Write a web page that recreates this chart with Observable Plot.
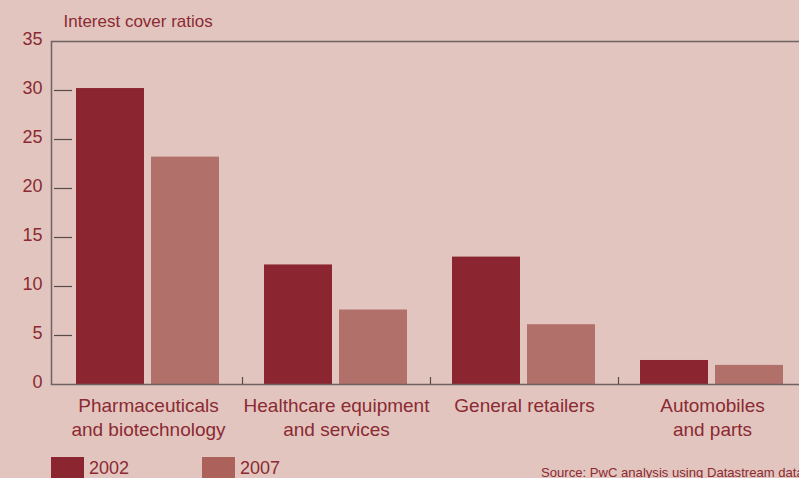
<!DOCTYPE html>
<html>
<head>
<meta charset="utf-8">
<script src="https://cdn.jsdelivr.net/npm/d3@7"></script>
<script src="https://cdn.jsdelivr.net/npm/@observablehq/plot@0.6"></script>
<style>
  html, body { margin: 0; padding: 0; background: #e2c5bf; }
  #wrap { position: relative; width: 799px; height: 478px; overflow: hidden; background: #e2c5bf; font-family: "Liberation Sans", Arial, sans-serif; }
  #chart { position: absolute; left: 0; top: 0; width: 806px; }
  #chart svg { max-width: none !important; width: 806px !important; height: 450px !important; }
  .legend { position: absolute; top: 457px; height: 30px; font-size: 18px; color: #8b2a32; }
  .sw { position: absolute; left: 0; top: 0; width: 33px; height: 24px; }
  .lt { position: absolute; left: 38px; top: 2px; line-height: 18px; white-space: nowrap; }
  .source { position: absolute; left: 541px; top: 466px; font-size: 13.1px; line-height: 13.1px; color: #8b2a32; white-space: nowrap; }
</style>
</head>
<body>
<div id="wrap">
  <div id="chart"></div>
  <div class="legend" style="left:51px"><div class="sw" style="background:#8b2630"></div><span class="lt">2002</span></div>
  <div class="legend" style="left:202px"><div class="sw" style="background:#ac615a"></div><span class="lt">2007</span></div>
  <div class="source">Source: PwC analysis using Datastream data</div>
</div>
<script>
const categories = ["Pharmaceuticals\nand biotechnology", "Healthcare equipment\nand services", "General retailers", "Automobiles\nand parts"];
const values2002 = [30.2, 12.2, 13.0, 2.45];
const values2007 = [23.2, 7.6, 6.1, 1.95];
const yTicks = [0, 5, 10, 15, 20, 25, 30, 35];
const innerTicks = [5, 10, 15, 20, 25, 30];

const rows2002 = categories.map((c, i) => ({category: c, value: values2002[i]}));
const rows2007 = categories.map((c, i) => ({category: c, value: values2007[i]}));

const red = "#8b2a32";
const chart = Plot.plot({
  width: 806,
  height: 450,
  marginLeft: 51,
  marginRight: 0,
  marginTop: 41,
  marginBottom: 66,
  style: {background: "transparent", fontFamily: "Liberation Sans, Arial, sans-serif", fontSize: "17px", color: red},
  x: {domain: categories, range: [54, 806], padding: 0, axis: null},
  y: {domain: [0, 35], axis: null},
  marks: [
    Plot.barY(rows2002, {x: "category", y: "value", fill: "#8b2630", insetLeft: 22, insetRight: 98}),
    Plot.barY(rows2007, {x: "category", y: "value", fill: "#b2706a", insetLeft: 97, insetRight: 23}),
    Plot.ruleY(innerTicks, {stroke: "#5a4a4a", strokeWidth: 1.2, insetLeft: 3, insetRight: 734}),
    Plot.ruleX(categories.slice(0, 3), {x: d => d, dx: 94, stroke: "#5a4a4a", strokeWidth: 1.2, insetTop: 336}),
    Plot.frame({stroke: "#6e6262", strokeWidth: 1.5}),
    Plot.axisY(yTicks, {tickSize: 0, tickPadding: 9, fontSize: 18, fill: red, dy: -2, label: null}),
    Plot.axisX({tickSize: 0, tickPadding: 11, fontSize: 19, fill: red, lineHeight: 1.25, label: null}),
    Plot.text(["Interest cover ratios"], {frameAnchor: "top-left", dx: 12, dy: -15, fontSize: 17, fill: red, textAnchor: "start", lineAnchor: "bottom"})
  ]
});
document.getElementById("chart").appendChild(chart);
</script>
</body>
</html>
